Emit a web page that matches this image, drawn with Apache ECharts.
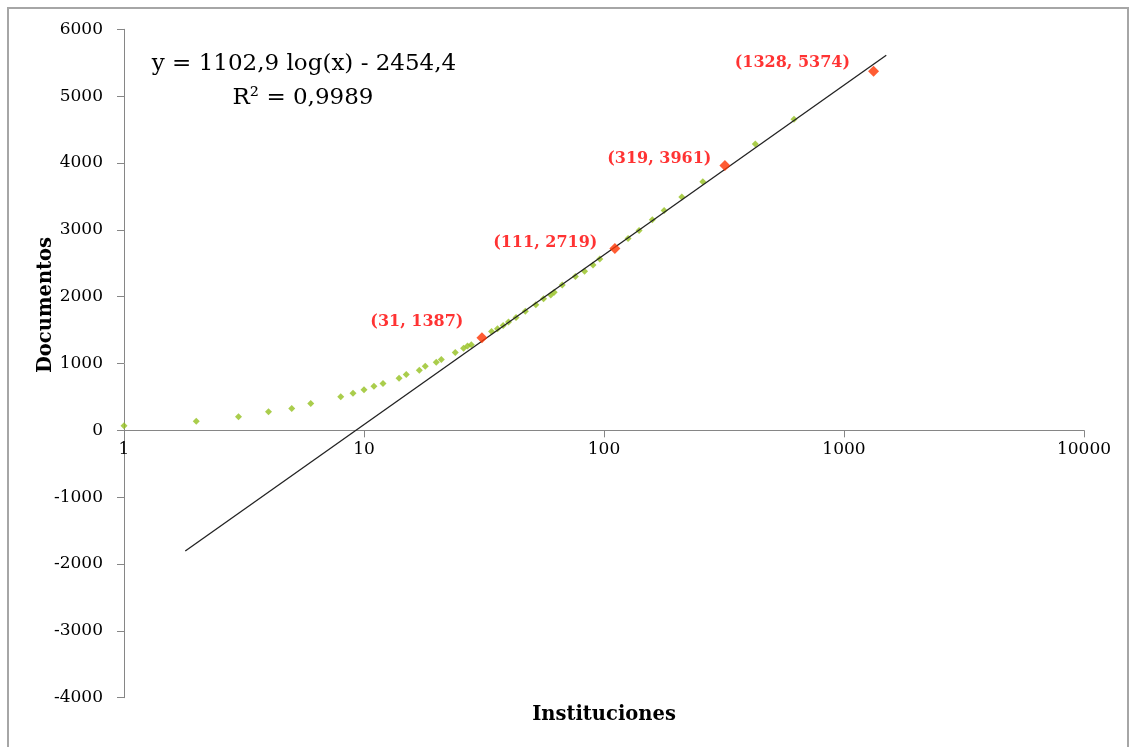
<!DOCTYPE html>
<html>
<head>
<meta charset="utf-8">
<script src="https://cdn.jsdelivr.net/npm/echarts@6/dist/echarts.min.js"></script>
<style>
  html, body { margin: 0; padding: 0; background: #fff; }
  #chart { width: 1131px; height: 747px; }
</style>
</head>
<body>
<div id="chart"></div>
<script>
// Cumulative institutions vs cumulative documents
const institutions = [1, 2, 3, 4, 5, 6, 8, 9, 10, 11, 12, 14, 15, 17, 18, 20, 21, 24, 26, 27, 28,
  34, 36, 38, 40, 43, 47, 52, 56, 60, 62, 67, 76, 83, 90, 96, 126, 140, 159, 178, 211, 258, 427, 619];
const documents = [68, 137, 202, 277, 327, 402, 502, 556, 607, 660, 700, 780, 835, 900, 960, 1020, 1060,
  1165, 1230, 1260, 1280, 1480, 1520, 1570, 1620, 1690, 1780, 1880, 1970, 2025, 2065, 2175, 2300, 2380,
  2475, 2565, 2870, 2990, 3150, 3290, 3490, 3720, 4285, 4655];

// Highlighted zone boundaries
const markedInstitutions = [31, 111, 319, 1328];
const markedDocuments = [1387, 2719, 3961, 5374];

// Logarithmic trend line: y = slope * ln(x) + intercept
const trendSlope = 1102.9;
const trendIntercept = -2454.4;
const trendRange = [1.8, 1500];
const equationText = 'y = 1102,9 log(x) - 2454,4';
const r2Text = 'R\u00B2 = 0,9989';

// Axis ticks
const xTicks = [1, 10, 100, 1000, 10000];
const yMin = -4000, yMax = 6000, yStep = 1000;

const serif = '"DejaVu Serif", "Liberation Serif", serif';

const points = institutions.map((x, i) => [x, documents[i]]);
const marked = markedInstitutions.map((x, i) => [x, markedDocuments[i]]);
// a*ln(x)+b is straight on a log axis, so the two ends define it
const trend = trendRange.map(x => [x, trendSlope * Math.log(x) + trendIntercept]);

// label nudges for the highlighted points
const labelNudge = [[-3, -16], [-2, -6], [2, -7], [-8, -8]];

// plot box
const W = 1131, H = 747;
const gridTop = 29.3, gridBottom = 49.3;
const plotHeight = H - gridTop - gridBottom;
// lift the horizontal axis from the bottom edge up to the y = 0 line
const xAxisShift = -plotHeight * (0 - yMin) / (yMax - yMin);

const chart = echarts.init(document.getElementById('chart'), null, { renderer: 'canvas' });

chart.setOption({
  backgroundColor: '#ffffff',
  animation: false,
  grid: { left: 124, right: 47, top: gridTop, bottom: gridBottom, containLabel: false },
  xAxis: {
    type: 'log',
    logBase: 10,
    min: xTicks[0],
    max: xTicks[xTicks.length - 1],
    position: 'bottom',
    offset: xAxisShift,
    axisLine: { onZero: false, lineStyle: { color: '#868686', width: 1 } },
    axisTick: { show: true, length: 7, lineStyle: { color: '#868686' } },
    minorTick: { show: false },
    splitLine: { show: false },
    axisLabel: {
      color: '#000', fontFamily: serif, fontSize: 17, margin: 11,
      formatter: v => String(Math.round(v))
    }
  },
  yAxis: {
    type: 'value',
    min: yMin,
    max: yMax,
    interval: yStep,
    axisLine: { show: true, onZero: false, lineStyle: { color: '#868686', width: 1 } },
    axisTick: { show: true, length: 7, lineStyle: { color: '#868686' } },
    splitLine: { show: false },
    axisLabel: {
      color: '#000', fontFamily: serif, fontSize: 17, margin: 21,
      formatter: v => String(v)
    }
  },
  series: [
    {
      type: 'scatter',
      data: points,
      symbol: 'diamond',
      symbolSize: 7,
      itemStyle: { color: '#95C11F' },
      z: 2
    },
    {
      type: 'line',
      data: trend,
      symbol: 'none',
      lineStyle: { color: '#222222', width: 1.3 },
      z: 3
    },
    {
      type: 'scatter',
      data: marked.map((p, i) => ({
        value: p,
        label: { offset: labelNudge[i] }
      })),
      symbol: 'diamond',
      symbolSize: 11,
      itemStyle: { color: '#FF3300' },
      label: {
        show: true,
        position: 'left',
        distance: 10,
        formatter: p => '(' + p.value[0] + ', ' + p.value[1] + ')',
        color: '#FF0000',
        fontFamily: serif,
        fontWeight: 'bold',
        fontSize: 16
      },
      z: 4
    }
  ],
  graphic: [
    {
      type: 'rect',
      shape: { x: 8, y: 8, width: 1120, height: 745 },
      style: { fill: 'none', stroke: '#A6A6A6', lineWidth: 2 },
      silent: true
    },
    {
      type: 'text',
      x: 304, y: 64,
      style: { text: equationText, font: '23px ' + serif, fill: '#000', align: 'center', verticalAlign: 'middle' }
    },
    {
      type: 'text',
      x: 303, y: 98,
      style: { text: r2Text, font: '23px ' + serif, fill: '#000', align: 'center', verticalAlign: 'middle' }
    },
    {
      type: 'text',
      x: 46, y: 305, rotation: Math.PI / 2,
      style: { text: 'Documentos', font: 'bold 19.5px ' + serif, fill: '#000', align: 'center', verticalAlign: 'middle' }
    },
    {
      type: 'text',
      x: 604, y: 715,
      style: { text: 'Instituciones', font: 'bold 19.5px ' + serif, fill: '#000', align: 'center', verticalAlign: 'middle' }
    }
  ]
});
</script>
</body>
</html>
